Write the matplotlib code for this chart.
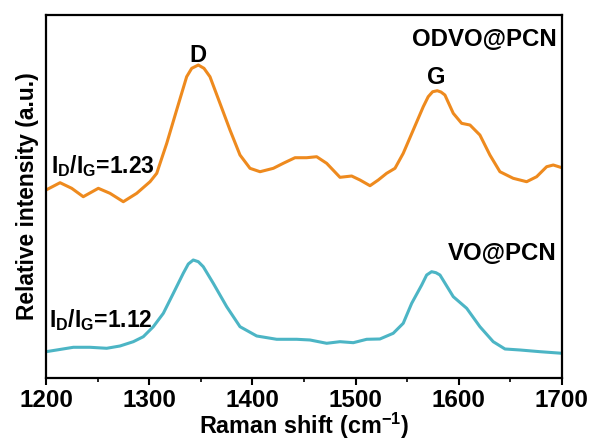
import numpy as np
import matplotlib.pyplot as plt
from matplotlib.ticker import MultipleLocator

plt.rcParams['font.family'] = ['Liberation Sans', 'DejaVu Sans']
plt.rcParams['font.weight'] = 'bold'
plt.rcParams['mathtext.fontset'] = 'custom'
plt.rcParams['mathtext.bf'] = 'Liberation Sans:bold'
plt.rcParams['mathtext.rm'] = 'Liberation Sans:bold'

# ODVO@PCN (orange), values (arbitrary units)
x_odvo = [1200, 1213.6, 1224.9, 1236.1, 1250.7, 1262, 1274.9, 1287.9, 1300.8,
          1307.3, 1317, 1326.6, 1336.3, 1341.2, 1347.6, 1353.1, 1358.9, 1368.6,
          1378.3, 1388, 1397.7, 1407.4, 1420.3, 1429.9, 1441.3, 1452.6, 1462.3,
          1472, 1484.9, 1496.2, 1504.3, 1514, 1522, 1530.1, 1538.2, 1546.2,
          1555.9, 1565.6, 1570.4, 1574.7, 1579.2, 1582.8, 1586.6, 1594.7,
          1602.8, 1610.9, 1620.5, 1630.2, 1639.9, 1652.8, 1665.8, 1675.5,
          1685.2, 1691.6, 1700]
y_odvo = [188, 195.3, 189.7, 181.3, 189.7, 184.7, 176.3, 184.7, 196.3,
          204.7, 234.7, 268, 301.3, 309.7, 313, 309.7, 301.3, 274.7,
          248, 223, 209.7, 206.3, 209.7, 214.7, 220.3, 220.3, 221.3,
          214.7, 200.7, 202, 198, 192.3, 198, 204.7, 209.7, 224.7,
          248, 271.3, 281.3, 286.3, 287.3, 286, 283, 264.7,
          254.7, 253, 243, 223, 206.3, 199.7, 196.3, 201.3,
          211.3, 213, 210.3]

# VO@PCN (cyan)
x_vo = [1200, 1210.4, 1226.5, 1242.6, 1258.8, 1271.7, 1284.6, 1294.3, 1304,
        1313.7, 1323.4, 1333, 1337.9, 1342.7, 1347.6, 1352.4, 1362.1, 1375.1,
        1388, 1404.2, 1423.5, 1442.9, 1455.8, 1472, 1484.9, 1497.8, 1510.8,
        1523.6, 1536.5, 1546.2, 1554.4, 1564.1, 1568.9, 1573.7, 1577.9,
        1581.8, 1594.7, 1607.7, 1620.5, 1633.4, 1644.8, 1659.3, 1678.7, 1700]
y_vo = [26.3, 28, 30.7, 30.7, 29.7, 32, 36.3, 41.3, 51.3,
        64.7, 84.7, 104.7, 114, 118, 116.3, 111.3, 94.7, 71.3,
        51.3, 42, 38.7, 38.7, 38, 34.7, 36.3, 35.3, 38.7,
        39, 44.7, 54.7, 74.7, 93, 103, 106.3, 105.3,
        103, 81.3, 69.7, 51.3, 36.3, 29, 28, 26.3, 24.7]

fig = plt.figure(figsize=(5.93, 4.41), dpi=100)
ax = fig.add_axes([0.0776, 0.1429, 0.870, 0.823])

ax.plot(x_odvo, y_odvo, color='#EE8A1E', lw=2.2, solid_joinstyle='round')
ax.plot(x_vo, y_vo, color='#4CB5C5', lw=2.2, solid_joinstyle='round')

ax.set_xlim(1200, 1700)
ax.set_ylim(0, 363)
ax.xaxis.set_major_locator(MultipleLocator(100))
ax.xaxis.set_minor_locator(MultipleLocator(50))
ax.set_yticks([])
ax.tick_params(axis='x', which='major', direction='out', length=5, width=1.5,
               labelsize=17.5, pad=3)
ax.tick_params(axis='x', which='minor', direction='out', length=3, width=1.2)
for s in ax.spines.values():
    s.set_linewidth(1.6)

ax.set_xlabel('Raman shift (cm$^{-1}$)', fontsize=16.8, fontweight='bold', labelpad=-1)
ax.set_ylabel('Relative intensity (a.u.)', fontsize=16.4, fontweight='bold', labelpad=5)

ax.text(1347, 323, 'D', fontsize=17, fontweight='bold', ha='center', va='center')
ax.text(1578, 301, 'G', fontsize=17, fontweight='bold', ha='center', va='center')
ax.text(1695, 339, 'ODVO@PCN', fontsize=17.3, fontweight='bold', ha='right', va='center')
ax.text(1695, 125, 'VO@PCN', fontsize=17.3, fontweight='bold', ha='right', va='center')
ax.text(1205, 212, r'$\mathbf{I_{D}/I_{G}}$=1.23', fontsize=16.5, fontweight='bold', ha='left', va='center')
ax.text(1203, 58, r'$\mathbf{I_{D}/I_{G}}$=1.12', fontsize=16.5, fontweight='bold', ha='left', va='center')

fig.savefig('out.png', dpi=100)
